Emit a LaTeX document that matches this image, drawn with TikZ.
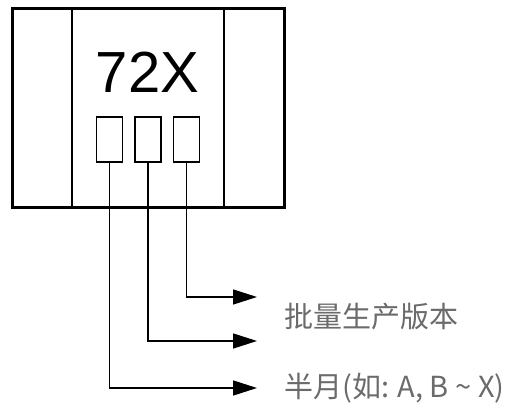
\documentclass[tikz,border=0pt]{standalone}
\usepackage{fontspec}
\setmainfont{Liberation Sans}
\newfontfamily\cjkfont{Noto Sans CJK SC}
\usetikzlibrary{positioning,arrows.meta}
\tikzset{
  chipbox/.style={draw,line width=3pt,minimum width=272pt,minimum height=199pt,inner sep=0pt},
  panelbox/.style={draw,line width=2pt,minimum width=152pt,minimum height=199pt,inner sep=0pt},
  digitbox/.style={draw,line width=1.5pt,minimum width=26pt,minimum height=45pt,inner sep=0pt},
  lead/.style={-{Triangle[length=24pt,width=15pt]},line width=1.5pt,black},
  note/.style={anchor=west,inner sep=0pt,text=black!58,font=\cjkfont\fontsize{29}{32}\selectfont},
}
\begin{document}
\begin{tikzpicture}[x=1pt,y=1pt]
  \useasboundingbox (0,0) rectangle (509,-403);
  % chip body and middle panel
  \node[chipbox] (chip) at (148,-108.5) {};
  \node[panelbox] (panel) at (chip.center) {};
  \node[font=\fontsize{58}{60}\selectfont,inner sep=0pt] (code) at (147.5,-72) {72X};
  % three code positions
  \node[digitbox] (d2) at (148,-139.5) {};
  \node[digitbox,left=11pt of d2] (d1) {};
  \node[digitbox,right=11pt of d2] (d3) {};
  % arrow ends
  \coordinate (e3) at (257,-297);
  \coordinate (e2) at (257,-341);
  \coordinate (e1) at (257,-388);
  \draw[lead] (d3.south) |- (e3);
  \draw[lead] (d2.south) |- (e2);
  \draw[lead] (d1.south) |- (e1);
  % explanations
  \node[note] (batch) at (284,-317) {批量生产版本};
  \node[note] (half) at (284,-388) {半月(如: A, B \textasciitilde{} X)};
\end{tikzpicture}
\end{document}
